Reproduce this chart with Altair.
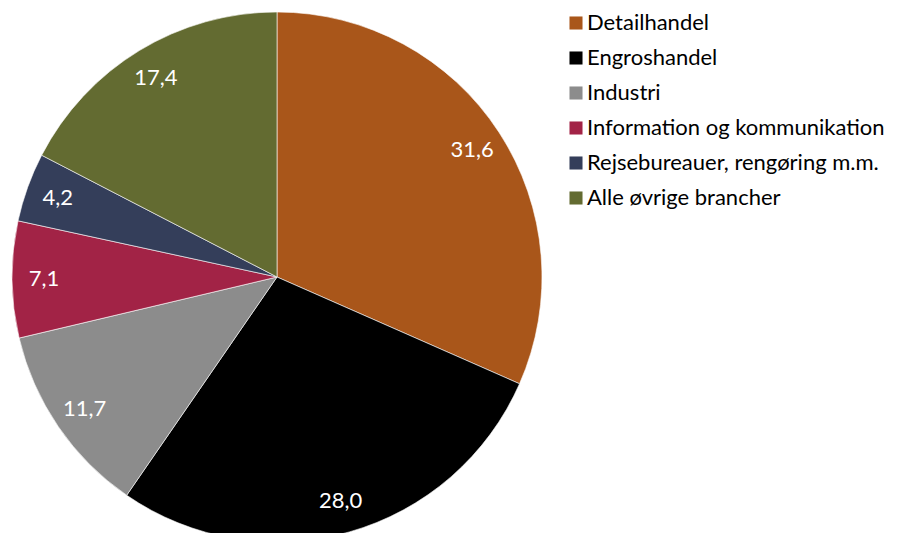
import altair as alt
import pandas as pd

categories = ["Detailhandel", "Engroshandel", "Industri", "Information og kommunikation",
              "Rejsebureauer, rengøring m.m.", "Alle øvrige brancher"]
values = [31.6, 28.0, 11.7, 7.1, 4.2, 17.4]
labels = ["31,6", "28,0", "11,7", "7,1", "4,2", "17,4"]
colors = ["#A9561A", "#000000", "#8C8C8C", "#A22346", "#343E5A", "#636B31"]

df = pd.DataFrame({"cat": categories, "val": values, "lab": labels, "idx": list(range(len(categories)))})

FONT = "Lato"
cx, cy, R = 269, 269, 265

base = alt.Chart(df).encode(
    theta=alt.Theta("val:Q", stack=True),
    order=alt.Order("idx:Q"),
)

arc = base.mark_arc(radius=R, stroke="#ffffff", strokeWidth=0.6).encode(
    x=alt.value(cx), y=alt.value(cy),
    color=alt.Color("cat:N", sort=categories,
                    scale=alt.Scale(domain=categories, range=colors),
                    legend=alt.Legend(title=None, orient="none", legendX=557, legendY=4,
                                      padding=0,
                                      symbolType="square", symbolSize=170, symbolStrokeWidth=0,
                                      labelFont=FONT, labelFontSize=22, labelColor="#000000",
                                      rowPadding=13, labelLimit=400, symbolOffset=0,
                                      labelOffset=0)),
)

text = base.mark_text(radius=233, font=FONT, fontSize=22, color="#ffffff").encode(
    x=alt.value(cx), y=alt.value(cy),
    text="lab:N",
)

chart = alt.layer(arc, text).properties(
    width=882, height=525, padding=0, autosize=alt.AutoSizeParams(type="none")
).configure_view(stroke=None)

chart.save("out.html", embed_options={"renderer": "svg", "actions": False})
